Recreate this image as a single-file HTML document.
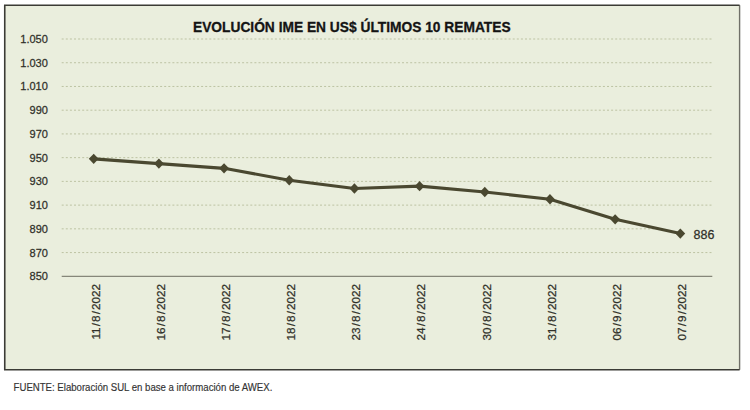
<!DOCTYPE html>
<html><head><meta charset="utf-8">
<style>
html,body{margin:0;padding:0;background:#fff;width:750px;height:410px;overflow:hidden}
svg{display:block}
text{font-family:"Liberation Sans",sans-serif}
.g{stroke:#bdc3a3;stroke-width:1;stroke-dasharray:2 2.1}
.ax{stroke:#86877a;stroke-width:1.3}
.yl{font-size:11.5px;fill:#303029;stroke:#303029;stroke-width:0.25}
.xl{font-size:11.7px;fill:#303029;stroke:#303029;stroke-width:0.25}
.dl{font-size:12px;fill:#303029;stroke:#303029;stroke-width:0.25}
.ln{fill:none;stroke:#4a4830;stroke-width:3.1;stroke-linejoin:round}
.mk{fill:#4a4830}
.tt{font-size:14.4px;font-weight:bold;fill:#141414;stroke:#141414;stroke-width:0.3}
.ft{font-size:10px;fill:#333;stroke:#333;stroke-width:0.15}
</style></head><body>
<svg width="750" height="410" viewBox="0 0 750 410">
<rect x="4.75" y="5.25" width="734.9" height="364.5" fill="#eaeedd"/>
<path d="M739.6 5.25V369.75" stroke="#707068" stroke-width="1.4" fill="none"/>
<path d="M739.6 5.25H4.75V369.75H739.6" stroke="#3b3b35" stroke-width="1.6" fill="none"/>
<text transform="translate(351.8,32.4) scale(0.957,1)" class="tt" text-anchor="middle">EVOLUCIÓN IME EN US$ ÚLTIMOS 10 REMATES</text>
<line x1="61.7" y1="252.57" x2="712.3" y2="252.57" class="g"/>
<line x1="61.7" y1="228.84" x2="655" y2="228.84" class="g"/>
<line x1="61.7" y1="205.11" x2="712.3" y2="205.11" class="g"/>
<line x1="61.7" y1="181.38" x2="712.3" y2="181.38" class="g"/>
<line x1="61.7" y1="157.65" x2="712.3" y2="157.65" class="g"/>
<line x1="61.7" y1="133.92" x2="712.3" y2="133.92" class="g"/>
<line x1="61.7" y1="110.19" x2="712.3" y2="110.19" class="g"/>
<line x1="61.7" y1="86.46" x2="712.3" y2="86.46" class="g"/>
<line x1="61.7" y1="62.73" x2="712.3" y2="62.73" class="g"/>
<line x1="61.7" y1="39.00" x2="712.3" y2="39.00" class="g"/>
<line x1="61.7" y1="276.30" x2="712.3" y2="276.30" class="ax"/>
<text transform="translate(47.9,280.30) scale(0.96,1)" class="yl" text-anchor="end">850</text>
<text transform="translate(47.9,256.57) scale(0.96,1)" class="yl" text-anchor="end">870</text>
<text transform="translate(47.9,232.84) scale(0.96,1)" class="yl" text-anchor="end">890</text>
<text transform="translate(47.9,209.11) scale(0.96,1)" class="yl" text-anchor="end">910</text>
<text transform="translate(47.9,185.38) scale(0.96,1)" class="yl" text-anchor="end">930</text>
<text transform="translate(47.9,161.65) scale(0.96,1)" class="yl" text-anchor="end">950</text>
<text transform="translate(47.9,137.92) scale(0.96,1)" class="yl" text-anchor="end">970</text>
<text transform="translate(47.9,114.19) scale(0.96,1)" class="yl" text-anchor="end">990</text>
<text transform="translate(47.9,90.46) scale(0.96,1)" class="yl" text-anchor="end">1.010</text>
<text transform="translate(47.9,66.73) scale(0.96,1)" class="yl" text-anchor="end">1.030</text>
<text transform="translate(47.9,43.00) scale(0.96,1)" class="yl" text-anchor="end">1.050</text>
<polyline points="93.70,158.84 158.88,163.58 224.06,168.33 289.24,180.19 354.42,188.50 419.60,186.13 484.78,192.06 549.96,199.18 615.14,219.35 680.32,233.59" class="ln"/>
<path d="M88.80 158.84L93.70 153.64L98.60 158.84L93.70 164.04Z" class="mk"/>
<path d="M153.98 163.58L158.88 158.38L163.78 163.58L158.88 168.78Z" class="mk"/>
<path d="M219.16 168.33L224.06 163.13L228.96 168.33L224.06 173.53Z" class="mk"/>
<path d="M284.34 180.19L289.24 174.99L294.14 180.19L289.24 185.39Z" class="mk"/>
<path d="M349.52 188.50L354.42 183.30L359.32 188.50L354.42 193.70Z" class="mk"/>
<path d="M414.70 186.13L419.60 180.93L424.50 186.13L419.60 191.33Z" class="mk"/>
<path d="M479.88 192.06L484.78 186.86L489.68 192.06L484.78 197.26Z" class="mk"/>
<path d="M545.06 199.18L549.96 193.98L554.86 199.18L549.96 204.38Z" class="mk"/>
<path d="M610.24 219.35L615.14 214.15L620.04 219.35L615.14 224.55Z" class="mk"/>
<path d="M675.42 233.59L680.32 228.39L685.22 233.59L680.32 238.79Z" class="mk"/>
<text transform="translate(99.50,284.0) rotate(-90)" class="xl" text-anchor="end">11<tspan dx="1.1">/</tspan><tspan dx="1.1">8</tspan><tspan dx="1.1">/</tspan><tspan dx="1.1">2022</tspan></text>
<text transform="translate(164.68,284.0) rotate(-90)" class="xl" text-anchor="end">16<tspan dx="1.1">/</tspan><tspan dx="1.1">8</tspan><tspan dx="1.1">/</tspan><tspan dx="1.1">2022</tspan></text>
<text transform="translate(229.86,284.0) rotate(-90)" class="xl" text-anchor="end">17<tspan dx="1.1">/</tspan><tspan dx="1.1">8</tspan><tspan dx="1.1">/</tspan><tspan dx="1.1">2022</tspan></text>
<text transform="translate(295.04,284.0) rotate(-90)" class="xl" text-anchor="end">18<tspan dx="1.1">/</tspan><tspan dx="1.1">8</tspan><tspan dx="1.1">/</tspan><tspan dx="1.1">2022</tspan></text>
<text transform="translate(360.22,284.0) rotate(-90)" class="xl" text-anchor="end">23<tspan dx="1.1">/</tspan><tspan dx="1.1">8</tspan><tspan dx="1.1">/</tspan><tspan dx="1.1">2022</tspan></text>
<text transform="translate(425.40,284.0) rotate(-90)" class="xl" text-anchor="end">24<tspan dx="1.1">/</tspan><tspan dx="1.1">8</tspan><tspan dx="1.1">/</tspan><tspan dx="1.1">2022</tspan></text>
<text transform="translate(490.58,284.0) rotate(-90)" class="xl" text-anchor="end">30<tspan dx="1.1">/</tspan><tspan dx="1.1">8</tspan><tspan dx="1.1">/</tspan><tspan dx="1.1">2022</tspan></text>
<text transform="translate(555.76,284.0) rotate(-90)" class="xl" text-anchor="end">31<tspan dx="1.1">/</tspan><tspan dx="1.1">8</tspan><tspan dx="1.1">/</tspan><tspan dx="1.1">2022</tspan></text>
<text transform="translate(620.94,284.0) rotate(-90)" class="xl" text-anchor="end">06<tspan dx="1.1">/</tspan><tspan dx="1.1">9</tspan><tspan dx="1.1">/</tspan><tspan dx="1.1">2022</tspan></text>
<text transform="translate(686.12,284.0) rotate(-90)" class="xl" text-anchor="end">07<tspan dx="1.1">/</tspan><tspan dx="1.1">9</tspan><tspan dx="1.1">/</tspan><tspan dx="1.1">2022</tspan></text>
<text transform="translate(693.6,238.6) scale(1.04,1)" class="dl">886</text>
<text transform="translate(13.6,390.8) scale(0.962,1)" class="ft">FUENTE: Elaboración SUL en base a información de AWEX.</text>
</svg>
</body></html>
